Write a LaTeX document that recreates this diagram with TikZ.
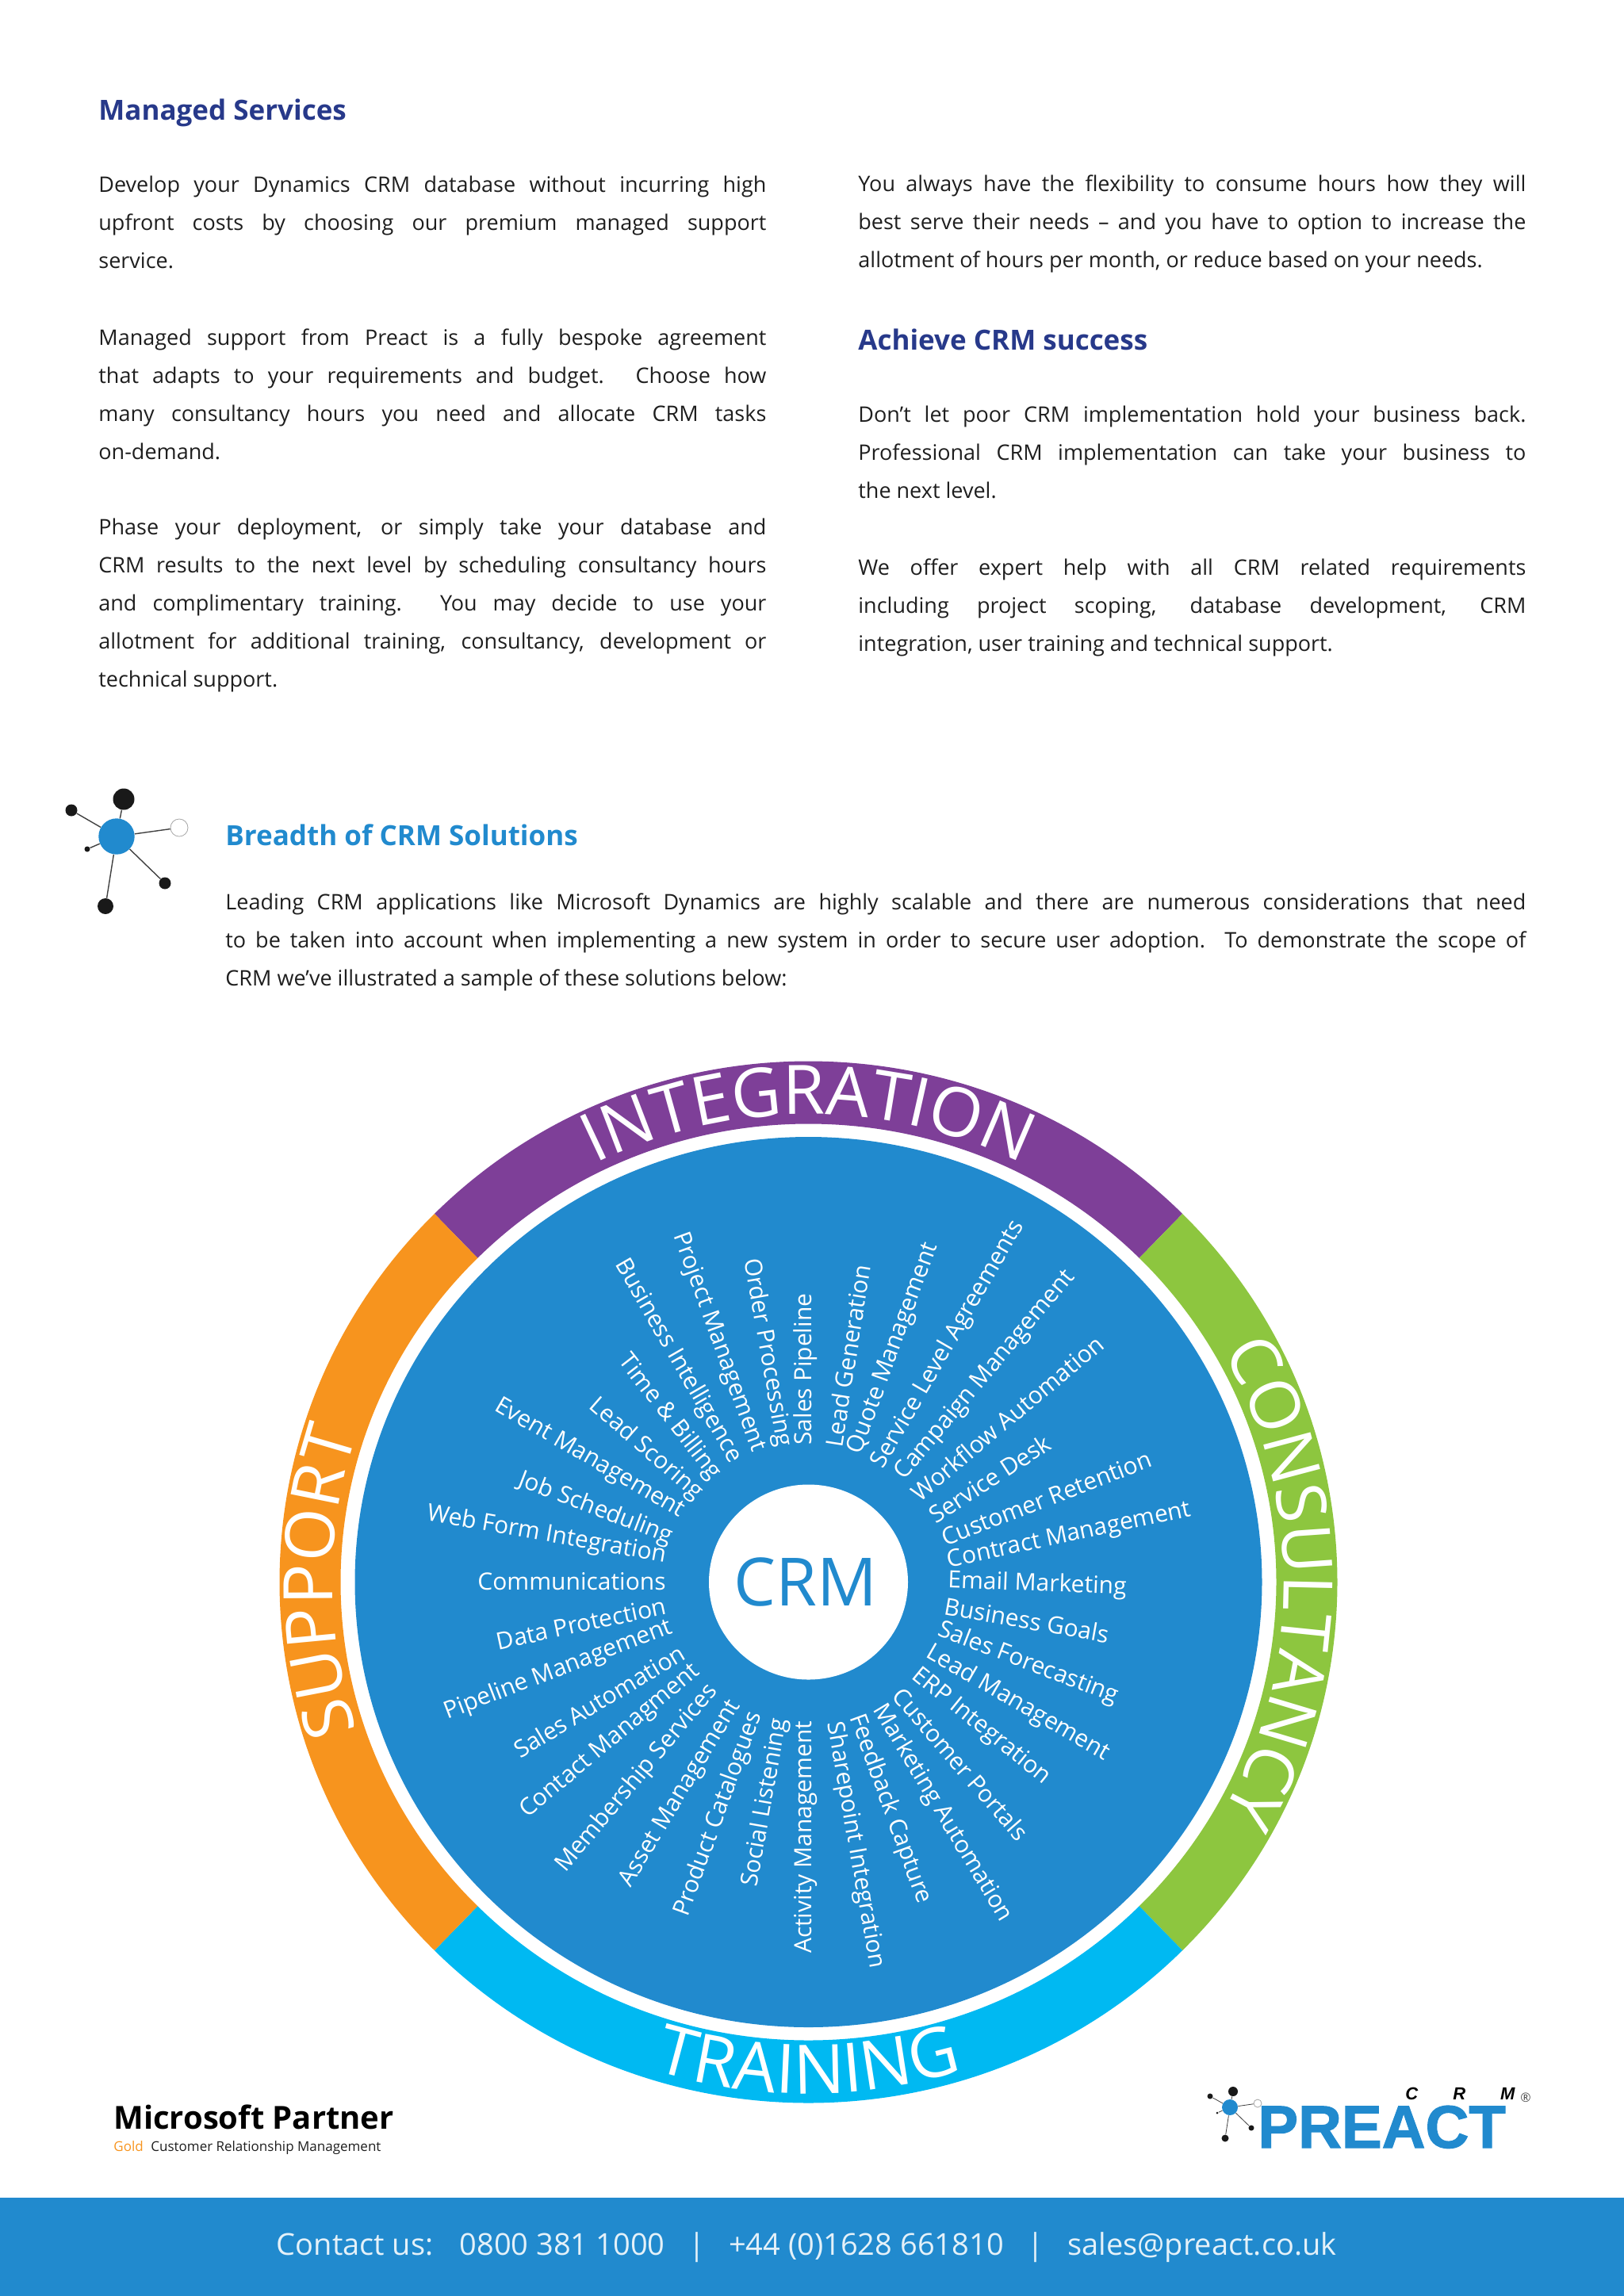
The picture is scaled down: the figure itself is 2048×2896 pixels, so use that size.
\documentclass[tikz,border=0pt]{standalone}
\usepackage{fontspec}
\setmainfont{Open Sans}
\newfontfamily\logofont[BoldFeatures={FakeBold=1.5}]{Liberation Sans}
\usetikzlibrary{decorations.text}
\definecolor{headblue}{HTML}{27398A}
\definecolor{crmblue}{HTML}{218ACE}
\definecolor{ringpurple}{HTML}{7E3F98}
\definecolor{ringgreen}{HTML}{8DC63F}
\definecolor{ringcyan}{HTML}{00B9F2}
\definecolor{ringorange}{HTML}{F7941E}
\definecolor{bodytext}{HTML}{1E1E1E}
\tikzset{
	para/.style={anchor=north west,inner sep=0pt,text width=#1,align=justify,text=bodytext,font=\fontsize{13.5}{24}\selectfont},
	head/.style={anchor=base west,inner sep=0pt,text=#1,font=\fontsize{17.5}{20}\selectfont\bfseries},
	spokeout/.style={anchor=west,inner sep=0pt,text=white,font=\fontsize{15}{16}\selectfont},
	spokein/.style={anchor=east,inner sep=0pt,text=white,font=\fontsize{15}{16}\selectfont},
	blob/.style={circle,inner sep=0pt,minimum size=#1,fill=black!90},
	hub/.style={circle,inner sep=0pt,minimum size=#1,fill=crmblue},
	hollow/.style={circle,inner sep=0pt,minimum size=#1,fill=white,draw=black!35},
	stem/.style={draw=black!75,line width=.7pt},
	ringlabel/.style={decorate,decoration={text along path,text align=center,text={|\fontsize{43}{43}\selectfont\color{white}|#1}}}
}
\begin{document}
\begin{tikzpicture}[x=.5pt,y=-.5pt]
\useasboundingbox (0,0) rectangle (2048,2896);
% left column
\node[head=headblue] (mshead) at (124,151) {Managed Services};
\node[para=421pt] (left1) at (124,222) {Develop your Dynamics CRM database without incurring high\linebreak upfront costs by choosing our premium managed support\linebreak service.};
\node[para=421pt] (left2) at (124,414) {Managed support from Preact is a fully bespoke agreement\linebreak that adapts to your requirements and budget. Choose how\linebreak many consultancy hours you need and allocate CRM tasks\linebreak on-demand.};
\node[para=421pt] (left3) at (124,654) {Phase your deployment, or simply take your database and\linebreak CRM results to the next level by scheduling consultancy hours\linebreak and complimentary training. You may decide to use your\linebreak allotment for additional training, consultancy, development or\linebreak technical support.};
% right column
\node[para=421pt] (right1) at (1082,220) {You always have the flexibility to consume hours how they will\linebreak best serve their needs -- and you have to option to increase the\linebreak allotment of hours per month, or reduce based on your needs.};
\node[head=headblue] (crmhead) at (1082,441) {Achieve CRM success};
\node[para=421pt] (right2) at (1082,512) {Don’t let poor CRM implementation hold your business back.\linebreak Professional CRM implementation can take your business to\linebreak the next level.};
\node[para=421pt] (right3) at (1082,704) {We offer expert help with all CRM related requirements\linebreak including project scoping, database development, CRM\linebreak integration, user training and technical support.};
% small icon
\node[hub=22.7pt] (ic) at (147,1055) {};
\node[blob=13.5pt] (ic1) at (156,1008) {};
\node[blob=7.5pt] (ic2) at (90,1022) {};
\node[blob=3.5pt] (ic3) at (110,1071) {};
\node[hollow=11pt] (ic4) at (226,1044) {};
\node[blob=7.5pt] (ic5) at (208,1114) {};
\node[blob=10pt] (ic6) at (133,1143) {};
\foreach \n in {1,...,6} \draw[stem] (ic) -- (ic\n);
\node[head=crmblue] (breadth) at (284,1066) {Breadth of CRM Solutions};
\node[para=820pt] (intro) at (284,1126) {Leading CRM applications like Microsoft Dynamics are highly scalable and there are numerous considerations that need\linebreak to be taken into account when implementing a new system in order to secure user adoption. To demonstrate the scope of\linebreak CRM we’ve illustrated a sample of these solutions below:};
% wheel
\begin{scope}[shift={(1019.5,1995.5)},y=.5pt]
\foreach \col/\sa/\ea in {ringpurple/135/45,ringgreen/45/-45,ringcyan/-45/-135,ringorange/-135/-225}
	\fill[\col] (\sa:667 and 657) arc[start angle=\sa,end angle=\ea,x radius=667,y radius=657] -- (\ea:590 and 578) arc[start angle=\ea,end angle=\sa,x radius=590,y radius=578] -- cycle;
\fill[crmblue] (0,0) ellipse[x radius=572,y radius=561.5];
\fill[white] (0,0) ellipse[x radius=125.5,y radius=123];
\path[ringlabel=INTEGRATION] (135:600 and 590) arc[start angle=135,end angle=45,x radius=600,y radius=590];
\path[ringlabel=CONSULTANCY] (45:600 and 590) arc[start angle=45,end angle=-45,x radius=600,y radius=590];
\path[ringlabel=SUPPORT] (225:600 and 590) arc[start angle=225,end angle=135,x radius=600,y radius=590];
\path[ringlabel=TRAINING] (225:655 and 645) arc[start angle=225,end angle=315,x radius=655,y radius=645];
\end{scope}
\node[inner sep=0pt,text=crmblue,font=\fontsize{42}{42}\selectfont] (crm) at (1016,1995) {CRM};
% spokes, text running away from the hub
\foreach \px/\py/\ang/\lab [count=\i] in {
	1016/1823/90/Sales Pipeline,1051/1825/81/Lead Generation,1079/1833/70/Quote Management,
	1107/1850/60/Service Level Agreements,1135/1863/50/Campaign Management,1153/1887/40/Workflow Automation,
	1174/1913/33/Service Desk,1188/1940/21/Customer Retention,1195/1970/12/Contract Management,
	1195/1995/-2/Email Marketing,1191/2025/-10/Business Goals,1184/2055/-21/Sales Forecasting,
	1170/2083/-30/Lead Management,1153/2110/-39/ERP Integration,1132/2133/-49/Customer Portals,
	1107/2152/-59/Marketing Automation,1079/2163/-70/Feedback Capture,1051/2172/-80/Sharepoint Integration}
	\node[spokeout,rotate=\ang] (out\i) at (\px,\py) {\lab};
% spokes, text running towards the hub
\foreach \px/\py/\ang/\lab [count=\i] in {
	1016/2170/90/Activity Management,984/2168/80/Social Listening,953/2160/70/Product Catalogues,
	928/2147/59/Asset Management,900/2128/50/Membership Services,879/2105/40/Contact Managment,
	861/2082/31/Sales Automation,847/2052/21/Pipeline Management,840/2025/12/Data Protection,
	840/1995/0/Communications,840/1963/-10/Web Form Integration,847/1940/-21/Job Scheduling,
	861/1908/-30/Event Management,882/1887/-41/Lead Scoring,903/1863/-52/Time \& Billing,
	928/1843/-60/Business Intelligence,956/1830/-70/Project Management,988/1825/-80/Order Processing}
	\node[spokein,rotate=\ang] (in\i) at (\px,\py) {\lab};
% partner mark
\node[anchor=base west,inner sep=0pt,text=black,font=\fontsize{20}{20}\selectfont\bfseries] (partner) at (143,2685) {Microsoft Partner};
\node[anchor=base west,inner sep=0pt,text=ringorange,font=\fontsize{8.5}{10}\selectfont] (gold) at (143,2713) {Gold};
\node[anchor=base west,inner sep=0pt,text=bodytext,font=\fontsize{8.5}{10}\selectfont] (crmgold) at (190,2713) {Customer Relationship Management};
% preact logo
\node[hub=10pt] (lg) at (1551,2658) {};
\node[blob=6pt] (lg1) at (1555,2638) {};
\node[blob=3.5pt] (lg2) at (1526,2644) {};
\node[blob=1.5pt] (lg3) at (1535,2665) {};
\node[hollow=5pt] (lg4) at (1586,2653) {};
\node[blob=3.5pt] (lg5) at (1578,2684) {};
\node[blob=4.5pt] (lg6) at (1545,2697) {};
\foreach \n in {1,...,6} \draw[stem,line width=.4pt] (lg) -- (lg\n);
\node[anchor=base west,inner sep=0pt,text=crmblue,font=\fontsize{38}{38}\logofont\bfseries] (preact) at (1586,2709) {PREACT};
\node[anchor=base west,inner sep=0pt,text=black,font=\fontsize{11}{11}\logofont\bfseries\itshape] (logocrm) at (1772,2648) {C\hspace{22pt}R\hspace{22pt}M};
\node[inner sep=0pt,text=black!70,font=\fontsize{8}{8}\selectfont] (logoreg) at (1924,2646) {®};
% footer
\fill[crmblue] (0,2772) rectangle (2048,2896);
\node[inner sep=0pt,text=white!88!crmblue,font=\fontsize{19}{20}\selectfont] (contact) at (1017,2835) {Contact us:\hspace{10pt} 0800 381 1000\hspace{10pt} |\hspace{10pt} +44 (0)1628 661810\hspace{10pt} |\hspace{10pt} sales@preact.co.uk};
\end{tikzpicture}
\end{document}
